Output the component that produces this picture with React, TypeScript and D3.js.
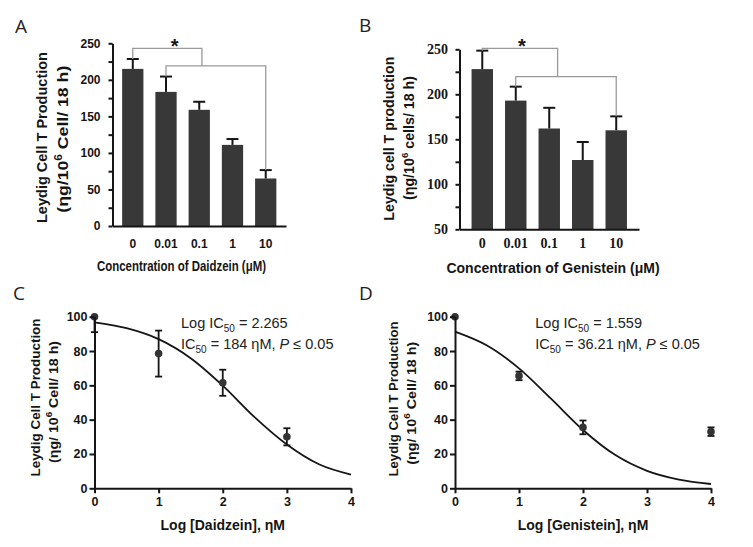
import React, { useRef, useEffect } from "react";
import * as d3 from "d3";

const SANS = "'Liberation Sans', Arial, sans-serif";
const SERIF = "'Liberation Serif', 'Times New Roman', serif";
const PANEL = "'Open Sans', sans-serif";

// A / B: T production per dose (bars + upper SEM)
const concLabels = ["0", "0.01", "0.1", "1", "10"];
const daidzeinT = [215, 183.5, 159, 111, 65];
const daidzeinErr = [13.5, 21, 11, 8, 11.5];
const genisteinT = [228, 193, 162, 127, 160];
const genisteinErr = [20.5, 15.5, 23, 20, 15.5];
const daidzeinTicks = [0, 50, 100, 150, 200, 250];
const genisteinTicks = [50, 100, 150, 200, 250];

// C / D: % of control vs log dose
const daidzeinLog = [0, 1, 2, 3];
const daidzeinPct = [100, 78.5, 61.5, 30];
const daidzeinPctErr = [9, 13.4, 7.6, 5];
const genisteinLog = [0, 1, 2, 4];
const genisteinPct = [100, 65.5, 35.5, 33];
const genisteinPctErr = [0, 2.5, 4, 2.5];
const logTicks = [0, 1, 2, 3, 4];
const pctTicks = [0, 20, 40, 60, 80, 100];

// fitted curves, every 0.5 log unit
const fitLog = [0, 0.5, 1, 1.5, 2, 2.5, 3, 3.5, 4];
const daidzeinFit = [96.7, 93.3, 86.9, 75.8, 59.8, 41.3, 25.5, 14, 8];
const genisteinFit = [91.3, 83.2, 69.9, 52.2, 34, 19.5, 10.2, 5.1, 2.5];

const BAR = "#383838";
const INK = "#151515";
const GRAY = "#9a9a9a";

function Axis(props: any) {
  const ref = useRef<SVGGElement>(null);
  useEffect(() => {
    const g = d3.select(ref.current as SVGGElement);
    g.selectAll("*").remove();
    g.call(props.axis);
    g.attr("font-family", props.font)
      .attr("font-size", props.size)
      .attr("font-weight", "bold");
    g.selectAll("line").attr("stroke", INK).attr("stroke-width", 2);
    g.select(".domain").attr("stroke", INK).attr("stroke-width", 2);
    if (props.noDomain) g.select(".domain").remove();
    g.selectAll("text").attr("fill", INK);
  });
  return <g ref={ref} transform={props.transform} />;
}

function YTitle({ x, y, len, size, children }: any) {
  return (
    <text
      transform={`translate(${x},${y}) rotate(-90)`}
      textAnchor="middle"
      fontFamily={SANS}
      fontWeight="bold"
      fontSize={size}
      fill={INK}
      textLength={len}
      lengthAdjust="spacingAndGlyphs"
    >
      {children}
    </text>
  );
}

function BarPanel(props: any) {
  const { values, errs, ticks, x0, x1, yTop, yBottom, padOuter, font, fontSize, labelPad, xPad, brackets, starPos } = props;
  const lo = ticks[0];
  const hi = ticks[ticks.length - 1];
  const x = d3.scaleBand().domain(concLabels).range([x0, x1]).paddingInner(0.36).paddingOuter(padOuter);
  const y = d3.scaleLinear().domain([lo, hi]).range([yBottom, yTop]);
  const cx = (i: number) => (x(concLabels[i]) as number) + x.bandwidth() / 2;
  const at = (p: number) => cx(0) + p * x.step();
  const errTop = (i: number) => y(values[i] + errs[i]);
  const minor = ticks.slice(0, -1).map((t: number) => t + 25);
  const [b1, b2] = brackets;

  return (
    <g>
      {values.map((v: number, i: number) => (
        <rect key={i} x={x(concLabels[i])} y={y(v)} width={x.bandwidth()} height={y(lo) - y(v)} fill={BAR} />
      ))}
      {values.map((v: number, i: number) => (
        <g key={"e" + i} stroke={INK} strokeWidth={2}>
          <line x1={cx(i)} x2={cx(i)} y1={y(v)} y2={errTop(i)} />
          <line x1={cx(i) - 6} x2={cx(i) + 6} y1={errTop(i)} y2={errTop(i)} />
        </g>
      ))}
      <g fill="none" stroke={GRAY} strokeWidth={1.3}>
        <polyline points={`${cx(0)},${errTop(0)} ${cx(0)},${y(b1.level)} ${at(b1.to)},${y(b1.level)} ${at(b1.to)},${y(b2.level)}`} />
        <polyline points={`${cx(1)},${errTop(1)} ${cx(1)},${y(b2.level)} ${cx(4)},${y(b2.level)} ${cx(4)},${errTop(4)}`} />
      </g>
      <text x={at(starPos)} y={y(b1.level) + 5} textAnchor="middle" fontFamily={SANS} fontWeight="bold" fontSize={20} fill={INK}>
        *
      </text>
      <Axis
        axis={d3.axisLeft(y).tickValues(ticks).tickSize(4).tickSizeOuter(0).tickPadding(labelPad).tickFormat(d3.format("d"))}
        transform={`translate(${x0},0)`}
        font={font}
        size={fontSize}
      />
      <Axis
        axis={d3.axisLeft(y).tickValues(minor).tickSize(4).tickFormat(() => "")}
        transform={`translate(${x0},0)`}
        font={font}
        size={fontSize}
        noDomain
      />
      <Axis
        axis={d3.axisBottom(x).tickSize(0).tickSizeOuter(0).tickPadding(xPad)}
        transform={`translate(0,${y(lo)})`}
        font={font}
        size={fontSize}
      />
    </g>
  );
}

function DosePanel(props: any) {
  const { xs, ys, es, fit, x0, x1, yTop, yBottom, name, ic, icText, noteX } = props;
  const x = d3.scaleLinear().domain([0, 4]).range([x0, x1]);
  const y = d3.scaleLinear().domain([0, 100]).range([yBottom, yTop]);
  const line = d3
    .line<number>()
    .x((_, i) => x(fitLog[i]))
    .y((d) => y(d))
    .curve(d3.curveMonotoneX);

  return (
    <g>
      <path d={line(fit) as string} fill="none" stroke={INK} strokeWidth={1.8} />
      {ys.map((v: number, i: number) => {
        const top = Math.min(v + es[i], 100);
        const bot = v - es[i];
        return (
          <g key={i} stroke={INK} strokeWidth={1.8}>
            {es[i] > 0 && <line x1={x(xs[i])} x2={x(xs[i])} y1={y(top)} y2={y(bot)} />}
            {es[i] > 0 && v + es[i] <= 100 && <line x1={x(xs[i]) - 3.5} x2={x(xs[i]) + 3.5} y1={y(top)} y2={y(top)} />}
            {es[i] > 0 && <line x1={x(xs[i]) - 3.5} x2={x(xs[i]) + 3.5} y1={y(bot)} y2={y(bot)} />}
            <circle cx={x(xs[i])} cy={y(v)} r={3.8} fill="#333" stroke="none" />
          </g>
        );
      })}
      <Axis
        axis={d3.axisLeft(y).tickValues(pctTicks).tickSize(5).tickSizeOuter(0).tickPadding(2).tickFormat(d3.format("d"))}
        transform={`translate(${x0},0)`}
        font={SANS}
        size={12.5}
      />
      <Axis
        axis={d3.axisBottom(x).tickValues(logTicks).tickSize(5).tickSizeOuter(0).tickPadding(4).tickFormat(d3.format("d"))}
        transform={`translate(0,${yBottom})`}
        font={SANS}
        size={12.5}
      />
      <text x={(x0 + x1) / 2} y={530} textAnchor="middle" fontFamily={SANS} fontWeight="bold" fontSize={14} fill={INK}>
        {`Log [${name}], ηM`}
      </text>
      <g fontFamily={SANS} fontSize={14.5} fill="#222">
        <text x={noteX} y={327.5}>
          Log IC<tspan fontSize={10} dy={4}>50</tspan>
          <tspan dy={-4}>{` = ${ic}`}</tspan>
        </text>
        <text x={noteX} y={348.5}>
          IC<tspan fontSize={10} dy={4}>50</tspan>
          <tspan dy={-4}>{` = ${icText} ηM, `}</tspan>
          <tspan fontStyle="italic">P</tspan>
          <tspan>{" ≤ 0.05"}</tspan>
        </text>
      </g>
    </g>
  );
}

export default function App() {
  return (
    <svg width={753} height={547} style={{ position: "absolute", left: 0, top: 0, background: "#fff" }}>
      <g fontFamily={PANEL} fontSize={19} fill="#222">
        <text x={15} y={33}>A</text>
        <text x={359} y={32}>B</text>
        <text x={13} y={300}>C</text>
        <text x={359} y={300}>D</text>
      </g>

      <BarPanel
        values={daidzeinT}
        errs={daidzeinErr}
        ticks={daidzeinTicks}
        x0={112.5}
        x1={286}
        yTop={43.3}
        yBottom={226}
        padOuter={0.29}
        font={SANS}
        fontSize={12}
        labelPad={8}
        xPad={13}
        brackets={[{ to: 2.08, level: 243 }, { level: 219 }]}
        starPos={1.26}
      />
      <YTitle x={46.7} y={137.5} len={171} size={15}>Leydig Cell T Production</YTitle>
      <YTitle x={67.5} y={139.2} len={147} size={15}>
        (ηg/10<tspan dy={-6} fontSize={10}>6</tspan><tspan dy={6}> Cell/ 18 h)</tspan>
      </YTitle>
      <text x={181.5} y={270.5} textAnchor="middle" fontFamily={SANS} fontWeight="bold" fontSize={15} fill={INK} textLength={169} lengthAdjust="spacingAndGlyphs">
        Concentration of Daidzein (μM)
      </text>

      <BarPanel
        values={genisteinT}
        errs={genisteinErr}
        ticks={genisteinTicks}
        x0={459.5}
        x1={639}
        yTop={49.3}
        yBottom={229.3}
        padOuter={0.36}
        font={SERIF}
        fontSize={14}
        labelPad={7.5}
        xPad={9}
        brackets={[{ to: 2.25, level: 251 }, { level: 219.6 }]}
        starPos={1.18}
      />
      <YTitle x={393.5} y={138.7} len={164} size={14}>Leydig cell T production</YTitle>
      <YTitle x={413.8} y={138} len={124} size={14}>
        (ηg/10<tspan dy={-6} fontSize={9.5}>6</tspan><tspan dy={6}> cells/ 18 h)</tspan>
      </YTitle>
      <text x={553} y={273} textAnchor="middle" fontFamily={SANS} fontWeight="bold" fontSize={14} fill={INK}>
        Concentration of Genistein (μM)
      </text>

      <DosePanel
        xs={daidzeinLog}
        ys={daidzeinPct}
        es={daidzeinPctErr}
        fit={daidzeinFit}
        x0={94.5}
        x1={351}
        yTop={316.7}
        yBottom={488.3}
        name="Daidzein"
        ic="2.265"
        icText="184"
        noteX={181}
      />
      <YTitle x={40} y={397.5} len={158} size={13.5}>Leydig Cell T Production</YTitle>
      <YTitle x={58} y={402} len={122} size={13.5}>
        (ηg/ 10<tspan dy={-6} fontSize={9.5}>6</tspan><tspan dy={6}> Cell/ 18 h)</tspan>
      </YTitle>

      <DosePanel
        xs={genisteinLog}
        ys={genisteinPct}
        es={genisteinPctErr}
        fit={genisteinFit}
        x0={455}
        x1={711}
        yTop={316.7}
        yBottom={488.3}
        name="Genistein"
        ic="1.559"
        icText="36.21"
        noteX={535.3}
      />
      <YTitle x={398} y={399} len={155} size={13.5}>Leydig Cell T Production</YTitle>
      <YTitle x={416} y={403.3} len={123} size={13.5}>
        (ηg/ 10<tspan dy={-6} fontSize={9.5}>6</tspan><tspan dy={6}> Cell/ 18 h)</tspan>
      </YTitle>
    </svg>
  );
}
